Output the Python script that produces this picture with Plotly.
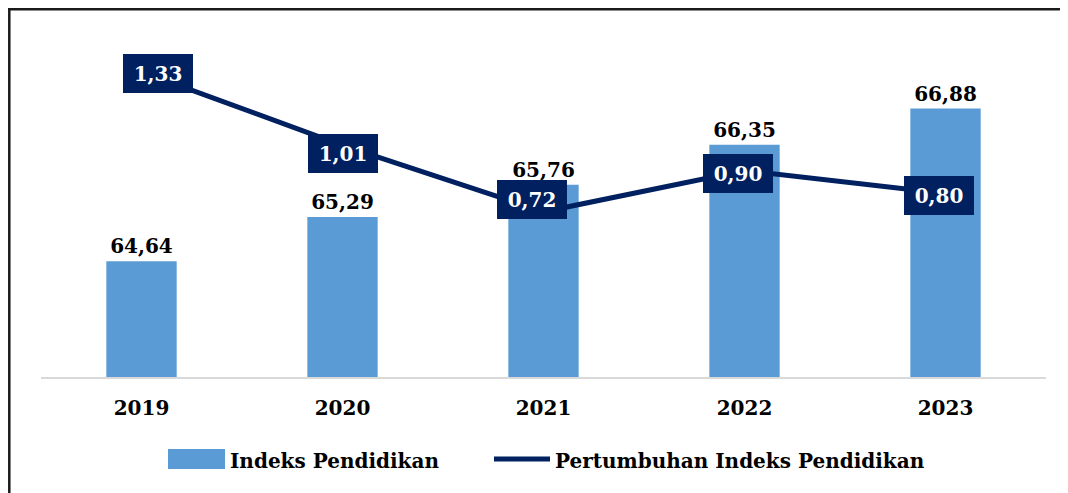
import plotly.graph_objects as go

# ---- data ----
years = ["2019", "2020", "2021", "2022", "2023"]
indeks_pendidikan = [64.64, 65.29, 65.76, 66.35, 66.88]
pertumbuhan = [1.33, 1.01, 0.72, 0.90, 0.80]

# ---- style ----
W, H = 1068, 493
OFF = 8  # page offset of the figure in the browser window
# plot area in window pixels: x 41..1046, y 20..377
ML = 41 - OFF
MT = 20 - OFF
MR = W - (1046 - OFF)
MB = H - (377 - OFF)
BAR_COLOR = "#5B9BD5"
NAVY = "#002060"
FONT = "DejaVu Serif"
label_xshift = [16, 0, -12, -7, -7]
label_yshift = [-2, -8, 12, -3, -2]

PW = W - ML - MR
PH = H - MT - MB


def px_x(px):
    return (px - OFF - ML) / PW


def px_y(py):
    return (H - MB - (py - OFF)) / PH


fig = go.Figure()

fig.add_trace(go.Bar(
    x=years, y=indeks_pendidikan, name="Indeks Pendidikan",
    marker=dict(color=BAR_COLOR, line=dict(width=0)),
    width=0.35,
    texttemplate="%{y:.2f}", textposition="outside",
    textfont=dict(family=FONT, size=20, color="#000000", weight="bold"),
    cliponaxis=False, showlegend=False,
))

fig.add_trace(go.Scatter(
    x=years, y=pertumbuhan, yaxis="y2", mode="lines",
    name="Pertumbuhan Indeks Pendidikan",
    line=dict(color=NAVY, width=5), showlegend=False,
))

annotations = []
for i, v in enumerate(pertumbuhan):
    annotations.append(dict(
        x=i, y=v, xref="x", yref="y2", showarrow=False,
        text=f"{v:.2f}".replace(".", ","),
        font=dict(family=FONT, size=20, color="white", weight="bold"),
        bgcolor=NAVY, borderwidth=0, borderpad=0, width=70, height=39,
        xshift=label_xshift[i], yshift=label_yshift[i],
    ))

# manual legend
annotations.append(dict(
    x=px_x(228), y=px_y(461), xref="paper", yref="paper", xanchor="left", yanchor="middle",
    showarrow=False, text="Indeks Pendidikan",
    font=dict(family=FONT, size=20, color="#000000", weight="bold"),
))
annotations.append(dict(
    x=px_x(553), y=px_y(461), xref="paper", yref="paper", xanchor="left", yanchor="middle",
    showarrow=False, text="Pertumbuhan Indeks Pendidikan",
    font=dict(family=FONT, size=20, color="#000000", weight="bold"),
))

shapes = [
    dict(type="rect", xref="paper", yref="paper", x0=px_x(168), x1=px_x(225),
         y0=px_y(469), y1=px_y(449), fillcolor=BAR_COLOR, line=dict(width=0)),
    dict(type="line", xref="paper", yref="paper", x0=px_x(494), x1=px_x(550),
         y0=px_y(459), y1=px_y(459), line=dict(color=NAVY, width=5)),
    # frame
    dict(type="line", xref="paper", yref="paper", x0=px_x(9.3), x1=px_x(9.3),
         y0=px_y(510), y1=px_y(9.3), line=dict(color="#1a1a1a", width=2.5)),
    dict(type="line", xref="paper", yref="paper", x0=px_x(8), x1=px_x(1080),
         y0=px_y(9.3), y1=px_y(9.3), line=dict(color="#1a1a1a", width=2.5)),
]

fig.update_layout(
    width=W, height=H,
    margin=dict(l=ML, r=MR, t=MT, b=MB, pad=0),
    paper_bgcolor="white", plot_bgcolor="white",
    separators=",.",
    showlegend=False,
    xaxis=dict(
        type="category", range=[-0.5, 4.5], showline=True, linecolor="#D9D9D9", linewidth=2,
        showgrid=False, zeroline=False, ticks="", ticklabelstandoff=12,
        tickfont=dict(family=FONT, size=20, color="#000000", weight="bold"),
    ),
    yaxis=dict(range=[62.94, 68.18], visible=False, showgrid=False, zeroline=False),
    yaxis2=dict(range=[0, 1.556], overlaying="y", side="right", visible=False,
                showgrid=False, zeroline=False),
    annotations=annotations,
    shapes=shapes,
)

fig.write_html("out.html")
